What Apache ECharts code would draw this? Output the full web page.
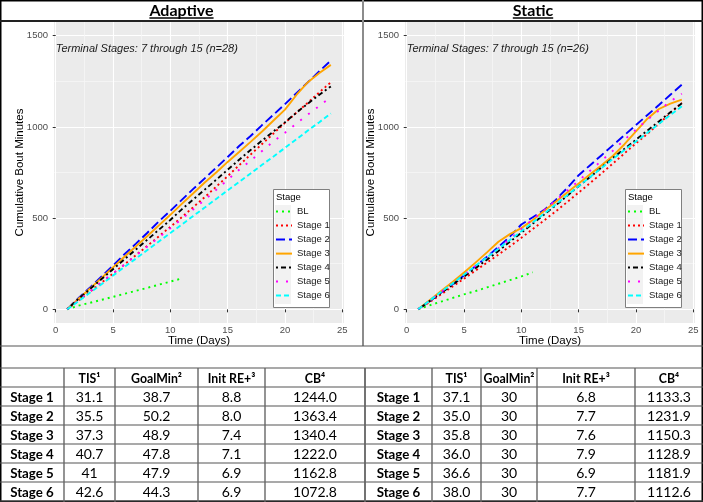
<!DOCTYPE html>
<html><head><meta charset="utf-8">
<script src="https://cdn.jsdelivr.net/npm/echarts@6/dist/echarts.min.js"></script>
<style>html,body{margin:0;padding:0;background:#fff}#c{width:703px;height:502px}</style>
</head><body><div id="c"></div><script>
// ---------------- data ----------------
const days = [1,2,3,4,5,6,7,8,9,10,11,12,13,14,15,16,17,18,19,20,21,22,23,24];
const blDays = [1,2,3,4,5,6,7,8,9,10,11];
const stageNames = ['BL','Stage 1','Stage 2','Stage 3','Stage 4','Stage 5','Stage 6'];

const adaptiveBL     = [0,20,36,52,68,85,101,118,135,152,169];
const adaptiveStage1 = [0,48,97,146,196,246,297,348,400,452,505,560,615,672,730,790,848,906,964,1022,1078,1133,1190,1244];
const adaptiveStage2 = [0,62,120,180,240,302,360,420,482,540,600,660,718,776,835,895,950,1010,1067,1125,1185,1245,1305,1363];
const adaptiveStage3 = [0,58,115,172,230,288,345,402,460,518,578,636,695,750,808,862,918,975,1035,1095,1175,1245,1295,1340];
const adaptiveStage4 = [0,58,112,166,220,274,328,382,436,490,548,602,656,710,765,820,873,925,975,1025,1078,1128,1176,1222];
const adaptiveStage5 = [0,50,100,150,198,245,295,345,395,445,495,548,600,655,710,765,815,868,920,968,1018,1068,1115,1163];
const adaptiveStage6 = [0,45,92,138,185,232,278,325,372,418,465,512,558,605,652,698,745,792,838,885,932,980,1026,1073];

const staticBL     = [0,22,42,62,82,100,120,140,160,180,203];
const staticStage1 = [0,40,82,125,168,212,256,300,345,392,440,488,537,588,640,692,745,800,855,910,962,1017,1075,1133];
const staticStage2 = [0,45,92,138,186,236,288,342,398,465,505,545,600,665,735,790,845,900,955,1010,1065,1120,1176,1232];
const staticStage3 = [0,50,100,150,202,256,312,370,412,445,490,540,590,640,690,740,790,842,905,975,1045,1098,1128,1150];
const staticStage4 = [0,45,90,135,180,225,272,320,370,420,470,520,570,622,675,725,778,830,880,930,980,1030,1080,1129];
const staticStage5 = [0,47,95,142,190,238,287,335,385,440,493,545,597,650,705,760,815,870,930,985,1040,1090,1140,1182];
const staticStage6 = [0,48,95,142,190,238,285,332,380,428,476,525,575,625,675,725,775,825,873,920,968,1017,1065,1113];

const xTicks = [0,5,10,15,20,25];
const xMinor = [2.5,7.5,12.5,17.5,22.5];
const yTicks = [0,500,1000,1500];
const yMinor = [250,750,1250];

const panelTitles = ['Adaptive','Static'];
const annotations = ['Terminal Stages: 7 through 15 (n=28)','Terminal Stages: 7 through 15 (n=26)'];

const tableHeaders = ['TIS\u00B9','GoalMin\u00B2','Init RE+\u00B3','CB\u2074'];
const tableRowLabels = ['Stage 1','Stage 2','Stage 3','Stage 4','Stage 5','Stage 6'];
const adaptiveTIS     = ['31.1','35.5','37.3','40.7','41','42.6'];
const adaptiveGoalMin = ['38.7','50.2','48.9','47.8','47.9','44.3'];
const adaptiveInitRE  = ['8.8','8.0','7.4','7.1','6.9','6.9'];
const adaptiveCB      = ['1244.0','1363.4','1340.4','1222.0','1162.8','1072.8'];
const staticTIS       = ['37.1','35.0','35.8','36.0','36.6','38.0'];
const staticGoalMin   = ['30','30','30','30','30','30'];
const staticInitRE    = ['6.8','7.7','7.6','7.9','6.9','7.7'];
const staticCB        = ['1133.3','1231.9','1150.3','1128.9','1181.9','1112.6'];

// ---------------- styles / layout ----------------
const FONT_CHART = '"Liberation Sans", Arial, sans-serif';
const FONT_TABLE = 'Lato, "Open Sans", sans-serif';
const lineStyles = [
  {color:'#00FF00', type:[2,4]},
  {color:'#FF0000', type:[2,3]},
  {color:'#0000FF', type:[9,4]},
  {color:'#FFA500', type:'solid'},
  {color:'#000000', type:[2,3,5,3]},
  {color:'#FF00FF', type:[2,8]},
  {color:'#00FFFF', type:[5,3]}
];
const W = 703, H = 502;
const headerBottom = 21, chartBottom = 346, tableTop = 368, rowH = 19;
const dividerX = 363;
const leftCols = [0, 64, 115, 198, 265, 365];
const rightCols = [365, 432, 481, 537, 635, 703];
const grids = [
  {left:54, top:22, width:290, height:301},
  {left:405, top:22, width:290, height:301}
];
const legendPos = [{left:273, top:189},{left:625, top:189}];
const legendBox = {width:56, height:118, keyTop:17, keyW:16, rowH:14};

const chart = echarts.init(document.getElementById('c'), null, {renderer:'canvas', width:W, height:H});

function axisPair(kind, g) {
  const isX = kind === 'x';
  const ticks = isX ? xTicks : yTicks, minor = isX ? xMinor : yMinor;
  const min = isX ? -0.15 : -75, max = isX ? 25.15 : 1575;
  const main = {
    gridIndex:g, type:'value', min:min, max:max,
    axisLine:{show:false},
    axisTick:{show:true, length:3, customValues:ticks, lineStyle:{color:'#333333', width:1}},
    axisLabel:{customValues:ticks, margin: isX ? 2 : 6, fontSize:9.5, color:'#4D4D4D', fontFamily:FONT_CHART,
               formatter: v => String(v)},
    splitLine:{show:true, lineStyle:{color:'#FFFFFF', width:1.1}},
    name: isX ? 'Time (Days)' : 'Cumulative Bout Minutes',
    nameLocation:'middle', nameGap: isX ? 12 : 28, nameMoveOverlap:false,
    nameTextStyle:{fontSize:11.5, color:'#000', fontFamily:FONT_CHART}
  };
  const mn = {
    gridIndex:g, type:'value', min:min, max:max, position: isX ? 'bottom' : 'left',
    axisLine:{show:false}, axisTick:{show:false, customValues:minor},
    axisLabel:{show:false, customValues:minor},
    splitLine:{show:true, lineStyle:{color:'#F6F6F6', width:0.8}}
  };
  return [main, mn];
}

function buildSeries(list, g) {
  return list.map((arr, k) => ({
    type:'line', name:stageNames[k], xAxisIndex:g*2, yAxisIndex:g*2,
    data: arr.map((v,i) => [(k===0 ? blDays : days)[i], v]),
    showSymbol:false, symbol:'none', silent:true, animation:false,
    lineStyle:{color:lineStyles[k].color, width:1.9, type:lineStyles[k].type, cap:'butt'},
    itemStyle:{color:lineStyles[k].color}
  }));
}

const series = buildSeries([adaptiveBL,adaptiveStage1,adaptiveStage2,adaptiveStage3,adaptiveStage4,adaptiveStage5,adaptiveStage6],0)
  .concat(buildSeries([staticBL,staticStage1,staticStage2,staticStage3,staticStage4,staticStage5,staticStage6],1));

chart.setOption({
  animation:false,
  grid: grids.map(p => Object.assign({show:true, backgroundColor:'#EBEBEB', borderWidth:0}, p)),
  xAxis: axisPair('x',0).concat(axisPair('x',1)),
  yAxis: axisPair('y',0).concat(axisPair('y',1)),
  legend: legendPos.map(p => ({
    left:p.left, top:p.top, orient:'vertical', padding:[legendBox.keyTop,3,3,2], z:10,
    itemWidth:legendBox.keyW, itemHeight:14, itemGap:2.8, selectedMode:false,
    backgroundColor:'transparent', borderWidth:0,
    itemStyle:{opacity:0, color:'transparent', borderWidth:0},
    textStyle:{fontSize:9.5, color:'#1A1A1A', fontFamily:FONT_CHART},
    data: stageNames
  })),
  series: series
});

// ---------------- decorations ----------------
const ctx = document.createElement('canvas').getContext('2d');
function textW(t, font){ ctx.font = font; return ctx.measureText(t).width; }
function L(x1,y1,x2,y2,color,w){ return {type:'line', silent:true, z:100, shape:{x1,y1,x2,y2}, style:{stroke:color, lineWidth:w}}; }
function T(text,x,y,opt){
  opt = opt || {};
  return {type:'text', silent:true, z:101, x:x, y:y, scaleX:opt.sx||1, style:{
    text:text, x:0, y:0, fill:opt.fill||'#000', font: opt.font,
    align:opt.align||'center', textAlign:opt.align||'center',
    verticalAlign:opt.va||'middle', textVerticalAlign:opt.va||'middle'
  }};
}
const gfx = [];
// header titles with underline
const headFont = 'bold 16px ' + FONT_TABLE;
[[0,dividerX],[dividerX,W]].forEach((c,i) => {
  const cx = (c[0]+c[1])/2;
  gfx.push(T(panelTitles[i], cx, 10.5, {font:headFont}));
  const w = textW(panelTitles[i], headFont);
  gfx.push(L(cx-w/2, 18, cx+w/2, 18, '#000', 1.3));
});
// annotations, located in data space
annotations.forEach((a,i) => {
  const p = chart.convertToPixel({xAxisIndex:i*2, yAxisIndex:i*2}, [0, 1430]);
  gfx.push(T(a, p[0], p[1], {font:'italic 11px ' + FONT_CHART, align:'left', fill:'#1A1A1A'}));
});
// legend boxes, key backgrounds and titles (legend items drawn above)
legendPos.forEach(p => {
  gfx.push({type:'rect', silent:true, z:5, shape:{x:p.left+0.5, y:p.top+0.5, width:legendBox.width, height:legendBox.height},
            style:{fill:'#FFFFFF', stroke:'#7F7F7F', lineWidth:1}});
  gfx.push({type:'rect', silent:true, z:6, shape:{x:p.left+2, y:p.top+legendBox.keyTop-1, width:legendBox.keyW, height:7*legendBox.rowH+1},
            style:{fill:'#F2F2F2'}});
  gfx.push(T('Stage', p.left+3, p.top+8, {font:'9.5px ' + FONT_CHART, align:'left', fill:'#000'}));
});
// frame
gfx.push(L(0,0.75,W,0.75,'#000',1.5));
gfx.push(L(0.75,0,0.75,H,'#000',1.5));
gfx.push(L(W-0.75,0,W-0.75,H,'#000',1.5));
gfx.push(L(0,H-0.75,W,H-0.75,'#000',1.5));
gfx.push(L(0,headerBottom,W,headerBottom,'#222',2));
gfx.push(L(dividerX,0,dividerX,chartBottom,'#8C8C8C',2));
gfx.push(L(0,chartBottom,W,chartBottom,'#555',1.2));
// tables
for (let r = 0; r <= 7; r++) {
  const y = tableTop + r*rowH;
  gfx.push(L(0,y,W,y,'#555',1.2));
}
function table(cols, vals) {
  cols.forEach(x => { if (x > 1 && x < W-1) gfx.push(L(x,tableTop,x,H,'#666',1.4)); });
  tableHeaders.forEach((h,j) => {
    gfx.push(T(h, (cols[j+1]+cols[j+2])/2, tableTop+rowH/2+1, {font:'bold 14px ' + FONT_TABLE, sx:0.88}));
  });
  tableRowLabels.forEach((lab,r) => {
    const cy = tableTop + (r+1)*rowH + rowH/2 + 1;
    gfx.push(T(lab, (cols[0]+cols[1])/2, cy, {font:'bold 14px ' + FONT_TABLE, sx:0.95}));
    vals.forEach((arr,j) => gfx.push(T(arr[r], (cols[j+1]+cols[j+2])/2, cy, {font:'14px ' + FONT_TABLE})));
  });
}
table(leftCols, [adaptiveTIS, adaptiveGoalMin, adaptiveInitRE, adaptiveCB]);
table(rightCols, [staticTIS, staticGoalMin, staticInitRE, staticCB]);

chart.setOption({graphic:{elements:gfx}});
</script></body></html>
